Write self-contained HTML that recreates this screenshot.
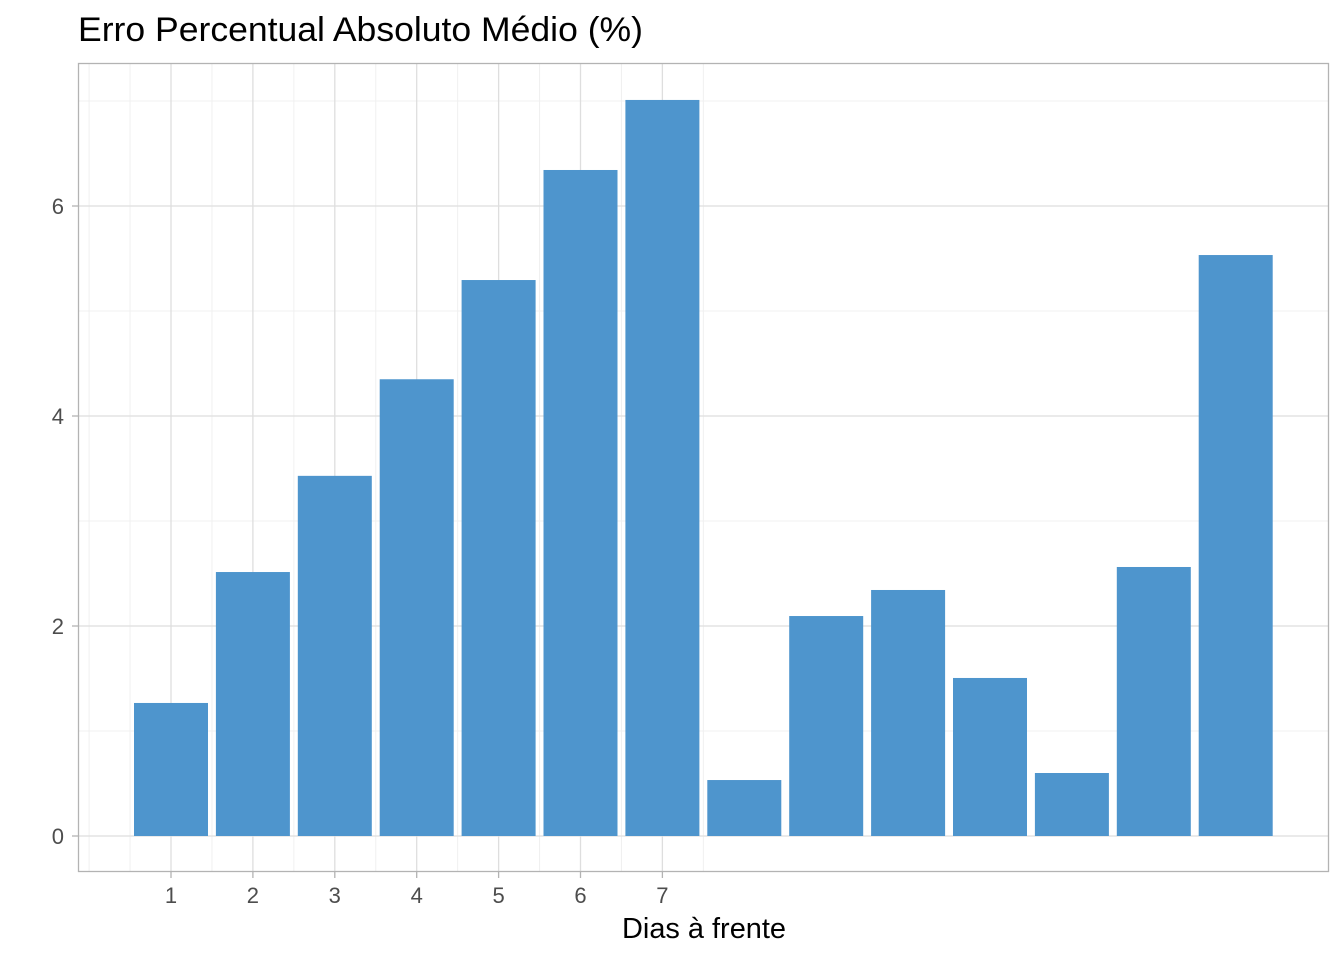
<!DOCTYPE html>
<html><head><meta charset="utf-8"><style>
body{margin:0;background:#fff;}
svg{display:block;font-family:"Liberation Sans",sans-serif;}
</style></head><body>
<svg id="chart" width="1344" height="960">
<text x="78" y="41" font-size="34" textLength="565" lengthAdjust="spacingAndGlyphs" fill="#000">Erro Percentual Absoluto Médio (%)</text>
<g id="grid"></g><g id="bars"></g><g id="axes"></g>
<rect x="78.5" y="63.5" width="1250" height="808" fill="none" stroke="#b3b3b3" stroke-width="1.3"/>
<text x="704" y="938" font-size="29" textLength="164" lengthAdjust="spacingAndGlyphs" text-anchor="middle" fill="#000">Dias à frente</text>
</svg>
<script>
const categories=[1,2,3,4,5,6,7,8,9,10,11,12,13,14];
const values=[1.267,2.514,3.43,4.35,5.295,6.343,7.01,0.533,2.095,2.343,1.505,0.6,2.562,5.533];
const xTicks=[1,2,3,4,5,6,7];
const xMinor=[0,0.5,1.5,2.5,3.5,4.5,5.5,6.5,7.5];
const yTicks=[0,2,4,6];
const yMinor=[1,3,5,7];
const ns="http://www.w3.org/2000/svg";
const X=v=>171+(v-1)*81.9;
const Y=v=>836-v*105;
function mk(t,a,p){const e=document.createElementNS(ns,t);for(const k in a)e.setAttribute(k,a[k]);p.appendChild(e);return e;}
const g=document.getElementById('grid'),b=document.getElementById('bars'),ax=document.getElementById('axes');
yMinor.forEach(v=>{const l=mk('line',{x1:79,x2:1328,y1:Y(v),y2:Y(v),stroke:'#f0f0f0','stroke-width':1},g);

});
xMinor.forEach(v=>{const l=mk('line',{x1:X(v),x2:X(v),y1:64,y2:871,stroke:'#f0f0f0','stroke-width':1},g);

});
yTicks.forEach(v=>{const l=mk('line',{x1:79,x2:1328,y1:Y(v),y2:Y(v),stroke:'#dedede','stroke-width':1.3},g);


const tk=mk('line',{x1:72,x2:78,y1:Y(v),y2:Y(v),stroke:'#b3b3b3','stroke-width':1.3},ax);


const t=mk('text',{x:64,y:Y(v)+8,'font-size':22,'text-anchor':'end',fill:'#4d4d4d'},ax);t.textContent=v;

});
xTicks.forEach(v=>{const l=mk('line',{x1:X(v),x2:X(v),y1:64,y2:871,stroke:'#dedede','stroke-width':1.3},g);


const tk=mk('line',{x1:X(v),x2:X(v),y1:872,y2:878,stroke:'#b3b3b3','stroke-width':1.3},ax);


const t=mk('text',{x:X(v),y:903,'font-size':22,'text-anchor':'middle',fill:'#4d4d4d'},ax);t.textContent=v;

});
categories.forEach((c,i)=>{const v=values[i];const r=mk('rect',{x:X(c)-37,width:74,y:Y(v),height:Y(0)-Y(v),fill:'#4e95cd'},b);

});
</script>
</body></html>
